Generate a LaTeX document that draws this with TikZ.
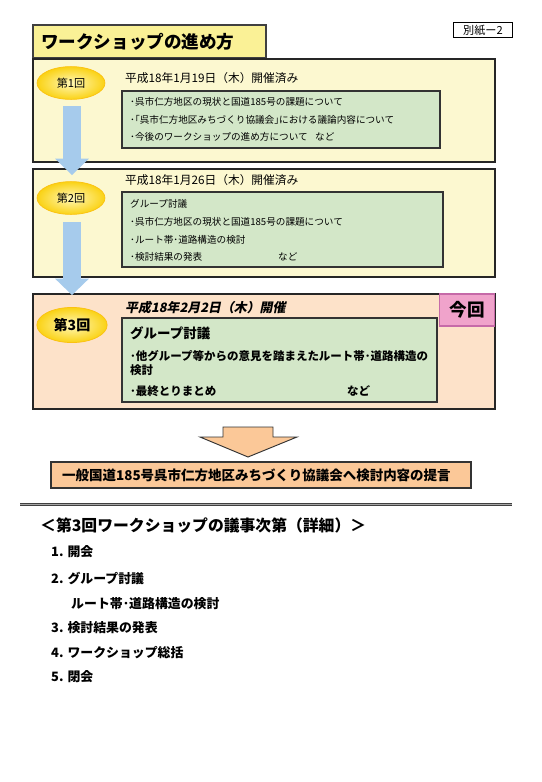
\documentclass[tikz,border=0pt]{standalone}
\usepackage{fontspec}
\setmainfont{Noto Sans CJK JP}
\newfontfamily\slantfont[FakeSlant=0.2]{Noto Sans CJK JP}
\usepackage{xcolor}
\usetikzlibrary{positioning,arrows.meta,calc,shapes.geometric}
\definecolor{titleyel}{HTML}{FAF196}
\definecolor{panelyel}{HTML}{FCF8D0}
\definecolor{panelpch}{HTML}{FDE2C9}
\definecolor{boxgrn}{HTML}{D3E7C8}
\definecolor{arrblue}{HTML}{A6CBEC}
\definecolor{arrorng}{HTML}{FBC898}
\definecolor{ovalin}{HTML}{FFF8B8}
\definecolor{ovalout}{HTML}{FAD214}
\definecolor{konpink}{HTML}{F0A3CB}
\definecolor{konedge}{HTML}{C66AA8}

\begin{document}
\begin{tikzpicture}[
    x=0.03cm, y=-0.03cm,
    panel/.style={draw=black!85, line width=1pt},
    grnbox/.style={draw=black!80, fill=boxgrn, line width=1.1pt},
    kai/.style={ellipse, draw=ovalout!80!orange, line width=0.6pt,
                inner color=ovalin, outer color=ovalout,
                minimum width=58pt, minimum height=28pt, inner sep=0pt,
                font=\fontsize{9.5}{11}\selectfont},
    line/.style={anchor=west, inner sep=0pt, font=\fontsize{8.2}{9}\selectfont},
    bline/.style={anchor=west, inner sep=0pt, font=\bfseries\fontsize{9.8}{12}\selectfont},
    date/.style={anchor=west, inner sep=0pt, font=\fontsize{10}{12}\selectfont},
    item/.style={anchor=west, inner sep=0pt, font=\bfseries\fontsize{11}{13}\selectfont},
    bluearr/.style={arrblue, line width=16.2pt,
                    -{Triangle[width=29pt, length=14pt, line width=0pt]}},
]
\useasboundingbox[fill=white] (0,0) rectangle (542,782);

% ---------------- header ----------------
\node[draw, line width=0.9pt, minimum width=51pt, minimum height=12pt, inner sep=1pt,
      font=\fontsize{9.5}{11}\selectfont] (besshi) at (483,30) {別紙ー2};
\draw[draw=black!75, line width=1.6pt, fill=titleyel] (33,25) rectangle (266,58);
\node[anchor=west, inner sep=0pt, font=\bfseries\fontsize{15}{18}\selectfont] (title) at (41,42) {ワークショップの進め方};

% ---------------- first workshop ----------------
\draw[panel, fill=panelyel] (33,59) rectangle (495,162);
\node[kai] (kai1) at (71,83) {第1回};
\node[date] (d1) at (125,78) {平成18年1月19日（木）開催済み};
\draw[grnbox] (122,91) rectangle (440,148);
\node[line] (b1a) at (130,102) {･呉市仁方地区の現状と国道185号の課題について};
\node[line] (b1b) at (130,120) {･｢呉市仁方地区みちづくり協議会｣における議論内容について};
\node[line] (b1c) at (130,137) {･今後のワークショップの進め方について};
\node[line] (b1n) at (315,137) {など};

% ---------------- second workshop ----------------
\draw[panel, fill=panelyel] (33,169) rectangle (495,277);
\node[kai] (kai2) at (71,198) {第2回};
\node[date] (d2) at (125,180) {平成18年1月26日（木）開催済み};
\draw[grnbox] (122,192) rectangle (443,267);
\node[line] (b2a) at (130,204) {グループ討議};
\node[line] (b2b) at (130,222) {･呉市仁方地区の現状と国道185号の課題について};
\node[line] (b2c) at (130,240) {･ルート帯･道路構造の検討};
\node[line] (b2d) at (130,257) {･検討結果の発表};
\node[line] (b2n) at (278,257) {など};

% ---------------- third workshop ----------------
\draw[panel, line width=1.2pt, fill=panelpch] (33,294) rectangle (495,409);
\node[kai, minimum width=60pt, minimum height=30pt,
      font=\bfseries\fontsize{12}{14}\selectfont] (kai3) at (72,325) {第3回};
\node[date, font=\slantfont\bfseries\fontsize{11}{13}\selectfont] (d3) at (125,308) {平成18年2月2日（木）開催};
\node[draw=konedge, line width=1.6pt, fill=konpink, minimum width=47pt, minimum height=27pt,
      inner sep=0pt, font=\bfseries\fontsize{15}{18}\selectfont] (konkai) at (467,310) {今回};
\draw[grnbox] (122,318) rectangle (437,402);
\node[bline, font=\bfseries\fontsize{11.5}{14}\selectfont] (b3a) at (130,333) {グループ討議};
\node[bline] (b3b) at (130,356) {･他グループ等からの意見を踏まえたルート帯･道路構造の};
\node[bline] (b3c) at (130,370) {検討};
\node[bline] (b3d) at (130,391) {･最終とりまとめ};
\node[bline] (b3n) at (347,391) {など};

% ---------------- blue arrows between rounds ----------------
\coordinate (a1s) at (72,106);
\coordinate (a1e) at (72,175);
\coordinate (a2s) at (72,222);
\coordinate (a2e) at (72,295);
\draw[bluearr] (a1s) -- (a1e);
\draw[bluearr] (a2s) -- (a2e);

% ---------------- proposal ----------------
\draw[draw=black!80, line width=0.8pt, fill=arrorng]
    (223,427) -- (273,427) -- (273,437) -- (297,437) -- (248,457) -- (200,437) -- (223,437) -- cycle;
\draw[draw=black!80, line width=1pt, fill=arrorng] (51,462) rectangle (471,488);
\node[anchor=west, inner sep=0pt, font=\bfseries\fontsize{11.5}{14}\selectfont] (teigen) at (62,475)
    {一般国道185号呉市仁方地区みちづくり協議会へ検討内容の提言};

% ---------------- agenda ----------------
\draw[black!75, line width=1.2pt, double=black!35, double distance=0.7pt] (20,504.5) -- (512,504.5);
\node[anchor=west, inner sep=0pt, font=\bfseries\fontsize{13.5}{16}\selectfont] (agenda) at (40,525)
    {＜第3回ワークショップの議事次第（詳細）＞};
\node[item] (i1) at (51,552) {1. 開会};
\node[item] (i2) at (51,578) {2. グループ討議};
\node[item] (i2s) at (71,604) {ルート帯･道路構造の検討};
\node[item] (i3) at (51,628) {3. 検討結果の発表};
\node[item] (i4) at (51,653) {4. ワークショップ総括};
\node[item] (i5) at (51,677) {5. 閉会};
\end{tikzpicture}
\end{document}
